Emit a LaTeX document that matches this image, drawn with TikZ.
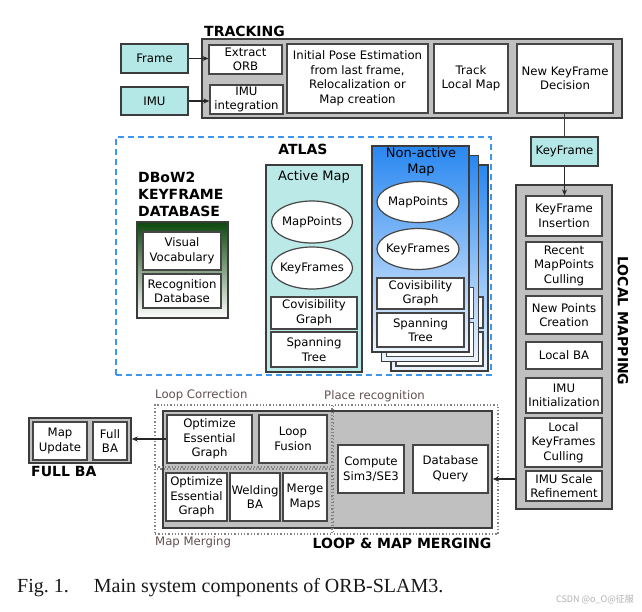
\documentclass[tikz,border=0pt]{standalone}
\usepackage{fontspec}
\setmainfont{DejaVu Sans}
\newfontfamily\capfont{Liberation Serif}
\newfontfamily\cjkfont{Noto Sans CJK SC}
\usetikzlibrary{arrows.meta,shapes.geometric}
\definecolor{cyanfill}{RGB}{180,232,230}
\definecolor{activefill}{RGB}{186,233,232}
\definecolor{grayfill}{RGB}{192,192,192}
\definecolor{grayline}{RGB}{60,60,60}
\definecolor{boxline}{RGB}{70,70,70}
\definecolor{nablue}{RGB}{40,135,240}
\definecolor{nabottom}{RGB}{236,244,255}
\definecolor{dkgreen}{RGB}{12,72,12}
\definecolor{dashblue}{RGB}{60,150,240}
\definecolor{dotgray}{RGB}{130,130,130}
\definecolor{lblcol}{RGB}{100,80,80}
\tikzset{
  every node/.style={font=\fontsize{11.7}{14.5}\selectfont, align=center, inner sep=0pt},
  span/.style n args={4}{at={({(#1+#3)/2},{(#2+#4)/2})}, minimum width={(#3-#1)*1pt}, minimum height={(#4-#2)*1pt}},
  wbox/.style={draw=boxline, line width=1.2pt, fill=white, rectangle},
  gbox/.style={draw=grayline, line width=1.5pt, fill=grayfill, rectangle},
  cbox/.style={draw=grayline, line width=1.2pt, fill=cyanfill, rectangle},
  titlefont/.style={font=\fontsize{14}{17}\selectfont\bfseries},
  bigfont/.style={font=\fontsize{13}{16.5}\selectfont},
  ell/.style={ellipse, draw=boxline, line width=1.2pt, fill=white},
  arr/.style={-{Stealth[length=6pt,width=5pt]}, line width=1.1pt, draw=black!85},
  conn/.style={line width=1.1pt, draw=black!75},
  dotbox/.style={draw=dotgray, line width=1.3pt, dotted, rectangle},
  lbl/.style={text=lblcol},
  cardpath/.style={draw=grayline, line width=1.2pt, top color=nablue, bottom color=nabottom},
  wpath/.style={draw=boxline, line width=1.2pt, fill=white},
}
\begin{document}
\begin{tikzpicture}[x=1pt,y=-1pt]
\useasboundingbox (0,0) rectangle (642,611);
\fill[white] (0,0) rectangle (642,611);

% ---------------- TRACKING ----------------
\node[gbox, span={202}{39}{622}{118}] (trk) {};
\node[titlefont, anchor=west] (trkl) at (204,31) {TRACKING};
\node[cbox, span={121}{44}{188}{73}] (frame) {Frame};
\node[cbox, span={121}{87}{188}{115}] (imu) {IMU};
\node[wbox, span={209}{45}{282}{74}] (orb) {Extract\\ORB};
\node[wbox, span={210}{85}{283}{114}] (imuint) {IMU\\integration};
\node[wbox, span={287}{44}{428}{113}] (pose) {Initial Pose Estimation\\from last frame,\\Relocalization or\\Map creation};
\node[wbox, span={434}{44}{508}{113}] (track) {Track\\Local Map};
\node[wbox, span={517}{44}{613}{113}] (nkf) {New KeyFrame\\Decision};
\draw[arr] (frame.east) -- (frame.east -| orb.west);
\draw[arr] (imu.east) -- (imu.east -| imuint.west);

% ---------------- KeyFrame + LOCAL MAPPING ----------------
\node[cbox, span={531}{137}{598}{166}] (kf) {KeyFrame};
\node[gbox, span={516}{185}{612}{509}] (lm) {};
\node[wbox, span={526}{196}{602}{236}] (kfins) {KeyFrame\\Insertion};
\node[wbox, span={526}{242}{602}{289}] (recent) {Recent\\MapPoints\\Culling};
\node[wbox, span={526}{296}{602}{334}] (newpts) {New Points\\Creation};
\node[wbox, span={526}{342}{602}{369}] (localba) {Local BA};
\node[wbox, span={526}{378}{602}{413}] (imuinit) {IMU\\Initialization};
\node[wbox, span={525}{418}{602}{467}] (lkfc) {Local\\KeyFrames\\Culling};
\node[wbox, span={526}{471}{602}{501}] (imuscale) {IMU Scale\\Refinement};
\node[titlefont, rotate=-90] (lml) at (623,321) {LOCAL MAPPING};
\draw[conn] (kf.north |- nkf.south) -- (kf.north);
\draw[arr] (kf.south) -- (kf.south |- kfins.north);

% ---------------- ATLAS ----------------
\node[draw=dashblue, line width=2pt, dash pattern=on 6pt off 4pt, rectangle, span={116}{137}{491}{375}] (atlas) {};
\node[titlefont] (atlasl) at (303,149) {ATLAS};
\node[titlefont, anchor=north west, align=left] (dbl) at (138,172) {DBoW2\\KEYFRAME\\DATABASE};
\node[draw=grayline, line width=1.5pt, top color=dkgreen, bottom color=white, rectangle, span={137}{222}{228}{318}] (db) {};
\node[wbox, span={143}{232}{221}{270}] (voc) {Visual\\Vocabulary};
\node[wbox, span={143}{274}{221}{308}] (recdb) {Recognition\\Database};

% Active map
\node[draw=grayline, line width=1.5pt, fill=activefill, rectangle, span={266}{165}{362}{372}] (am) {};
\node[bigfont] (aml) at (314,177) {Active Map};
\node[ell, minimum width=81pt, minimum height=42pt] (amp) at (312,222) {};
\node (ampt) at (amp) {MapPoints};
\node[ell, minimum width=81pt, minimum height=42pt] (akf) at (312,268) {};
\node (akft) at (akf) {KeyFrames};
\node[wbox, span={271}{297}{357}{329}] (acov) {Covisibility\\Graph};
\node[wbox, span={271}{332}{357}{367}] (aspan) {Spanning\\Tree};

% Non-active maps (stack)
\path[cardpath] (391,165) rectangle (488,371);
\path[wpath] (396,297) rectangle (483,328);
\path[wpath] (396,332) rectangle (483,366);
\path[cardpath] (381.5,155.5) rectangle (478.5,361.5);
\path[wpath] (386.5,287.5) rectangle (473.5,318.5);
\path[wpath] (386.5,322.5) rectangle (473.5,356.5);
\node[draw=grayline, line width=1.2pt, top color=nablue, bottom color=nabottom, rectangle, span={372}{146}{469}{352}] (na) {};
\node[bigfont] (nal) at (421,162) {Non-active\\Map};
\node[ell, minimum width=82pt, minimum height=41pt] (nmp) at (418,202) {};
\node (nmpt) at (nmp) {MapPoints};
\node[ell, minimum width=82pt, minimum height=41pt] (nkfe) at (418,249) {};
\node (nkft) at (nkfe) {KeyFrames};
\node[wbox, span={377}{278}{464}{309}] (ncov) {Covisibility\\Graph};
\node[wbox, span={377}{313}{464}{347}] (nspan) {Spanning\\Tree};

% ---------------- FULL BA ----------------
\node[gbox, span={29}{418}{131}{463}] (fb) {};
\node[wbox, span={33}{422}{87}{460}] (mapup) {Map\\Update};
\node[wbox, span={93}{422}{127}{460}] (fullba) {Full\\BA};
\node[titlefont, anchor=west] (fbl) at (31,471) {FULL BA};

% ---------------- LOOP & MAP MERGING ----------------
\node[gbox, span={163}{411}{492}{528}] (lmm) {};
\node[dotbox, span={155}{405}{332}{467}] (lc) {};
\node[dotbox, span={155}{469}{332}{534}] (mm) {};
\node[dotbox, span={333.5}{405}{498}{534}] (pr) {};
\node[lbl, anchor=west] (lcl) at (155,395) {Loop Correction};
\node[lbl, anchor=west] (prl) at (324,396) {Place recognition};
\node[lbl, anchor=west] (mml) at (155,542) {Map Merging};
\node[titlefont] (lmml) at (402,543) {LOOP \& MAP MERGING};
\node[wbox, span={167}{415}{252}{463}] (loeg) {Optimize\\Essential\\Graph};
\node[wbox, span={259}{415}{327}{463}] (lfus) {Loop\\Fusion};
\node[wbox, span={166}{473}{227}{521}] (moeg) {Optimize\\Essential\\Graph};
\node[wbox, span={230}{473}{280}{521}] (weld) {Welding\\BA};
\node[wbox, span={283}{473}{327}{521}] (merge) {Merge\\Maps};
\node[wbox, span={338}{445}{404}{493}] (sim3) {Compute\\Sim3/SE3};
\node[wbox, span={413}{445}{488}{493}] (dbq) {Database\\Query};

\coordinate (lmy) at (0,479);
\draw[arr] (lm.west |- lmy) -- (lmm.east |- lmy);
\draw[arr] (loeg.west) -- (fb.east |- loeg.west);

% ---------------- Caption ----------------
\node[font=\capfont\fontsize{20}{24}\selectfont, text=black!90, anchor=base west] (cap) at (17,592) {Fig.~1.\hspace{25pt}Main system components of ORB-SLAM3.};
\node[font=\cjkfont\fontsize{9}{11}\selectfont, text=black!30, anchor=east] (wm) at (634,599) {CSDN @o\_O@征服};
\end{tikzpicture}
\end{document}
